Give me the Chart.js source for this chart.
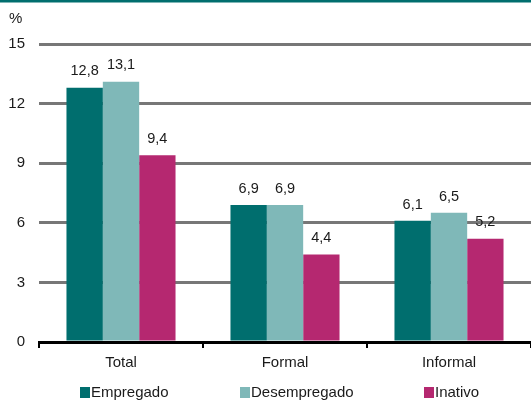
<!DOCTYPE html>
<html>
<head>
<meta charset="utf-8">
<script src="https://cdn.jsdelivr.net/npm/chart.js@4/dist/chart.umd.min.js"></script>
<style>
html,body{margin:0;padding:0;background:#fff;}
#wrap{width:531px;height:401px;position:relative;}
</style>
</head>
<body>
<div id="wrap"><canvas id="c" width="531" height="401"></canvas></div>
<script>
const categories = ["Total", "Formal", "Informal"];
const seriesNames = ["Empregado", "Desempregado", "Inativo"];
const empregado = [12.8, 6.9, 6.1];
const desempregado = [13.1, 6.9, 6.5];
const inativo = [9.4, 4.4, 5.2];
const yTicks = [0, 3, 6, 9, 12, 15];
const colors = ["#006e6e", "#7fb8b8", "#b52870"];

const FONT = "'Liberation Sans', Arial, sans-serif";

const decorPlugin = {
  id: 'decor',
  afterDatasetsDraw(chart) {
    const ctx = chart.ctx;
    ctx.save();
    ctx.font = "14.5px " + FONT;
    ctx.fillStyle = "#1a1a1a";
    ctx.textAlign = "center";
    ctx.textBaseline = "bottom";
    chart.data.datasets.forEach((ds, i) => {
      const meta = chart.getDatasetMeta(i);
      meta.data.forEach((bar, j) => {
        const txt = ds.data[j].toFixed(1).replace('.', ',');
        ctx.fillText(txt, bar.x, bar.y - 9);
      });
    });
    ctx.restore();
  },
  afterDraw(chart) {
    const ctx = chart.ctx;
    ctx.save();
    ctx.fillStyle = "#006e6e";
    ctx.fillRect(0, 0, chart.width, 2.5);
    ctx.fillStyle = "#1a1a1a";
    ctx.font = "15px " + FONT;
    ctx.textAlign = "left";
    ctx.textBaseline = "middle";
    ctx.fillText("%", 9, 19);
    const legendY = 393;
    const xs = [80, 240, 424];
    chart.data.datasets.forEach((ds, i) => {
      ctx.fillStyle = ds.backgroundColor;
      ctx.fillRect(xs[i], legendY - 6, 10, 11);
      ctx.fillStyle = "#1a1a1a";
      ctx.textAlign = "left";
      ctx.textBaseline = "middle";
      ctx.fillText(ds.label, xs[i] + 11, legendY);
    });
    ctx.restore();
  }
};

new Chart(document.getElementById('c'), {
  type: 'bar',
  data: {
    labels: categories,
    datasets: [
      { label: seriesNames[0], data: empregado, backgroundColor: colors[0] },
      { label: seriesNames[1], data: desempregado, backgroundColor: colors[1] },
      { label: seriesNames[2], data: inativo, backgroundColor: colors[2] }
    ]
  },
  options: {
    responsive: false,
    animation: false,
    devicePixelRatio: 1,
    layout: { padding: { top: 44, right: 0, bottom: 0, left: 0 } },
    datasets: { bar: { categoryPercentage: 0.665, barPercentage: 1.0, borderWidth: 0 } },
    plugins: { legend: { display: false }, tooltip: { enabled: false } },
    scales: {
      x: {
        afterFit(s) { s.height = 59; },
        grid: { drawOnChartArea: false, drawTicks: true, tickLength: 6, color: "#000", lineWidth: 2, offset: true },
        border: { display: true, color: "#000", width: 3 },
        ticks: { color: "#1a1a1a", font: { family: FONT, size: 15 }, padding: 6 }
      },
      y: {
        min: 0, max: 15,
        afterFit(s) { s.width = 39; },
        afterBuildTicks(s) { s.ticks = yTicks.map(v => ({ value: v })); },
        grid: { color: "#777777", lineWidth: 3, drawTicks: false },
        border: { display: false },
        ticks: { color: "#1a1a1a", font: { family: FONT, size: 15 }, padding: 14 }
      }
    }
  },
  plugins: [decorPlugin]
});
</script>
</body>
</html>
